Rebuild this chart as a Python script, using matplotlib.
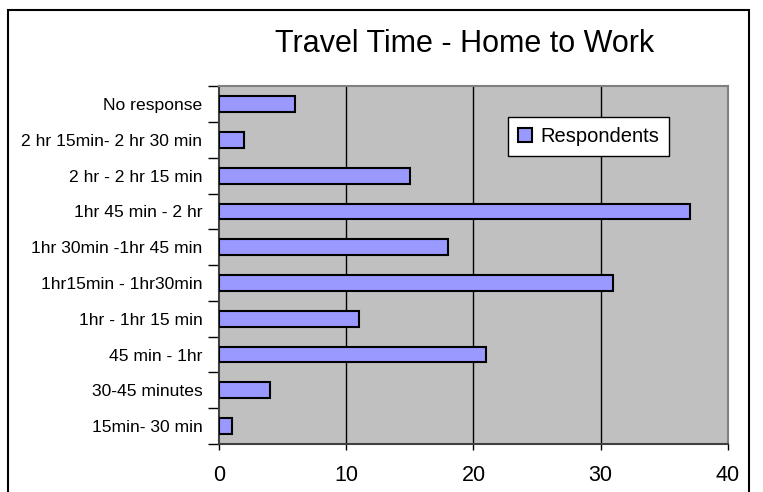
import numpy as np
import matplotlib
matplotlib.use("Agg")
import matplotlib.pyplot as plt
from matplotlib.patches import Rectangle

plt.rcParams['font.family'] = ['Liberation Sans', 'DejaVu Sans']

# categories listed bottom to top, as drawn
categories = ["15min- 30 min", "30-45 minutes", "45 min - 1hr", "1hr - 1hr 15 min",
              "1hr15min - 1hr30min", "1hr 30min -1hr 45 min", "1hr 45 min - 2 hr",
              "2 hr - 2 hr 15 min", "2 hr 15min- 2 hr 30 min", "No response"]
respondents = [1, 4, 21, 11, 31, 18, 37, 15, 2, 6]
x_ticks = [0, 10, 20, 30, 40]

fig = plt.figure(figsize=(7.63, 4.92), dpi=100)
ax = fig.add_axes([0.287, 0.0976, 0.667, 0.727])
ax.set_facecolor("#C0C0C0")

y = np.arange(len(categories))
ax.barh(y, respondents, height=0.44, color="#9999FF", edgecolor="black",
        linewidth=1.5, label="Respondents", zorder=3)

ax.set_xlim(0, 40)
ax.set_ylim(-0.5, len(categories) - 0.5)
ax.set_xticks(x_ticks)
ax.set_xticklabels([str(v) for v in x_ticks], fontsize=15.5)
ax.set_yticks(y)
ax.set_yticklabels(categories, fontsize=12.6)
ax.set_yticks(np.arange(len(categories) + 1) - 0.5, minor=True)
ax.tick_params(axis="y", which="major", length=0, pad=12)
ax.tick_params(axis="y", which="minor", length=8, width=1, direction="out")
ax.tick_params(axis="x", length=4, width=1, direction="out", pad=11)

for gx in x_ticks[1:-1]:
    ax.axvline(gx, color="black", linewidth=1, zorder=1)

for side in ["left", "bottom"]:
    ax.spines[side].set_color("#404040")
    ax.spines[side].set_linewidth(1.5)
for side in ["top", "right"]:
    ax.spines[side].set_color("#808080")
    ax.spines[side].set_linewidth(1.5)

leg = ax.legend(loc="upper left", bbox_to_anchor=(0.568, 0.915), fontsize=14.5,
                fancybox=False, framealpha=1, edgecolor="black",
                handlelength=0.7, handleheight=0.7, handletextpad=0.4,
                borderpad=0.5, borderaxespad=0)
leg.get_frame().set_linewidth(1)

fig.text(465 / 763, 1 - 52 / 492, "Travel Time - Home to Work", fontsize=22,
         ha="center", va="baseline")

# outer chart border
fig.patches.append(Rectangle((8 / 763, -0.02), 741 / 763, 1.02 - 10 / 492,
                             transform=fig.transFigure, fill=False,
                             edgecolor="black", linewidth=1.5))

fig.savefig("out.png", dpi=100)
